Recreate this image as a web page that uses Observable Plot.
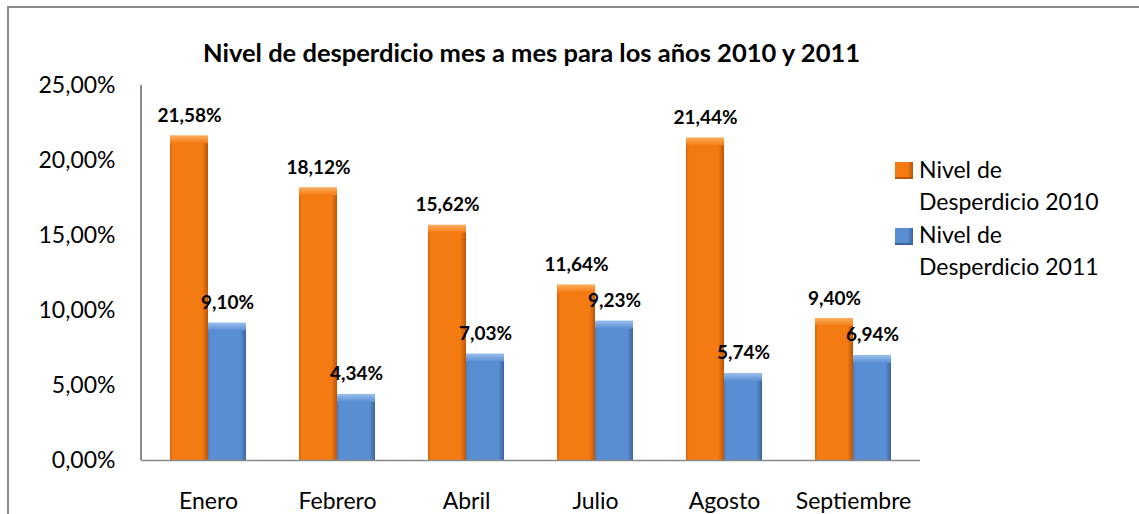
<!DOCTYPE html>
<html>
<head>
<meta charset="utf-8">
<script src="https://cdn.jsdelivr.net/npm/d3@7"></script>
<script src="https://cdn.jsdelivr.net/npm/@observablehq/plot@0.6"></script>
<style>
  body { margin: 0; background: #fff; }
  #wrap { position: relative; width: 1139px; height: 514px; overflow: hidden; font-family: Lato, "Open Sans", sans-serif; }
  #border { position: absolute; left: 7px; top: 6px; width: 1200px; height: 600px; border: 2px solid #8a8a8a; box-sizing: border-box; }
  #chart { position: absolute; left: 0; top: 0; }
  #yline { position: absolute; left: 140px; top: 85px; width: 1.5px; height: 375px; background: #8a8a8a; }
  #title { position: absolute; left: 0; width: 1063px; top: 35px; text-align: center; font-weight: bold; font-size: 25.5px; line-height: 34px; color: #000; white-space: nowrap; }
  #legend { position: absolute; left: 919px; top: 153px; font-size: 23px; line-height: 32.3px; color: #000; }
  .sw { position: absolute; left: 895px; width: 18px; height: 17px; box-sizing: border-box; }
</style>
</head>
<body>
<div id="wrap">
  <div id="border"></div>
  <div id="chart"></div>
  <div id="yline"></div>
  <div id="title"></div>
  <div id="legend"></div>
</div>
<script>
const months = ["Enero", "Febrero", "Abril", "Julio", "Agosto", "Septiembre"];
const values2010 = [21.58, 18.12, 15.62, 11.64, 21.44, 9.40];
const values2011 = [9.10, 4.34, 7.03, 9.23, 5.74, 6.94];
const yTicks = [0, 5, 10, 15, 20, 25];
const seriesNames = ["Nivel de Desperdicio 2010", "Nivel de Desperdicio 2011"];
const titleText = "Nivel de desperdicio mes a mes para los años 2010 y 2011";

const d2010 = months.map((m, i) => ({month: m, value: values2010[i]}));
const d2011 = months.map((m, i) => ({month: m, value: values2011[i]}));
const fmt = v => v.toFixed(2).replace(".", ",") + "%";

const plot = Plot.plot({
  width: 1139,
  height: 514,
  marginLeft: 141,
  marginRight: 219,
  marginTop: 85,
  marginBottom: 54,
  style: {fontFamily: "Lato, 'Open Sans', sans-serif", background: "transparent", overflow: "visible"},
  x: {type: "band", domain: months, paddingInner: 0.414, paddingOuter: 0.207, label: null},
  y: {domain: [0, 25], label: null},
  marks: [
    Plot.barY(d2010, {x: "month", y: "value", fill: "url(#gOrange)", insetRight: 38}),
    Plot.barY(d2011, {x: "month", y: "value", fill: "url(#gBlue)", insetLeft: 38}),
    Plot.barY(d2010, {x: "month", y1: "value", y2: "value", fill: "url(#gOrangeTop)", insetRight: 38, insetTop: -1, insetBottom: -7}),
    Plot.barY(d2011, {x: "month", y1: "value", y2: "value", fill: "url(#gBlueTop)", insetLeft: 38, insetTop: -1, insetBottom: -7}),
    Plot.ruleY([0], {stroke: "#8a8a8a", strokeWidth: 1.5}),
    Plot.axisY({ticks: yTicks, tickSize: 0, tickPadding: 26, tickFormat: fmt, fontSize: 23, fill: "#000", label: null}),
    Plot.axisX({tickSize: 0, tickPadding: 32, fontSize: 23, fill: "#000", label: null}),
    Plot.text(d2010, {x: "month", y: "value", text: d => fmt(d.value), dx: -19, dy: -21, fontSize: 19, fontWeight: "bold", fill: "#000"}),
    Plot.text(d2011, {x: "month", y: "value", text: d => fmt(d.value), dx: 19, dy: -21, fontSize: 19, fontWeight: "bold", fill: "#000"})
  ]
});

const ns = "http://www.w3.org/2000/svg";
const defs = document.createElementNS(ns, "defs");
function grad(id, stops, vertical) {
  const g = document.createElementNS(ns, "linearGradient");
  g.setAttribute("id", id);
  g.setAttribute("x1", "0"); g.setAttribute("y1", "0");
  g.setAttribute("x2", vertical ? "0" : "1"); g.setAttribute("y2", vertical ? "1" : "0");
  stops.forEach(([o, c]) => {
    const s = document.createElementNS(ns, "stop");
    s.setAttribute("offset", o); s.setAttribute("stop-color", c);
    g.appendChild(s);
  });
  defs.appendChild(g);
}
grad("gOrange", [["0", "#d9650c"], ["0.08", "#f47a12"], ["0.85", "#f47a12"], ["1", "#b9560a"]]);
grad("gBlue", [["0", "#4c7ec0"], ["0.08", "#5a8ed2"], ["0.85", "#5a8ed2"], ["1", "#3a64a0"]]);
grad("gOrangeTop", [["0", "#fbb060"], ["1", "#f47a12"]], true);
grad("gBlueTop", [["0", "#9cc0ee"], ["1", "#5a8ed2"]], true);
plot.insertBefore(defs, plot.firstChild);
document.getElementById("chart").appendChild(plot);

document.getElementById("title").textContent = titleText;
const legend = document.getElementById("legend");
seriesNames.forEach(n => {
  const parts = n.split(" ");
  const l1 = document.createElement("div"); l1.textContent = parts.slice(0, 2).join(" ");
  const l2 = document.createElement("div"); l2.textContent = parts.slice(2).join(" ");
  legend.appendChild(l1); legend.appendChild(l2);
});
const wrap = document.getElementById("wrap");
[["#f47a12", "#b9560a", 162], ["#5a8ed2", "#3a64a0", 228]].forEach(([c, e, top]) => {
  const s = document.createElement("div");
  s.className = "sw";
  s.style.top = top + "px";
  s.style.background = `linear-gradient(to right, ${c} 70%, ${e})`;
  s.style.borderBottom = `2px solid ${e}`;
  wrap.appendChild(s);
});
</script>
</body>
</html>
